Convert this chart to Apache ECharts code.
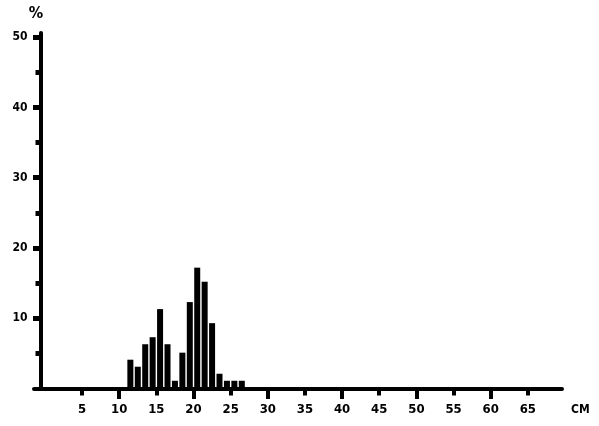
<!DOCTYPE html>
<html>
<head>
<meta charset="utf-8">
<script src="https://cdn.jsdelivr.net/npm/echarts@6/dist/echarts.min.js"></script>
<style>html,body{margin:0;padding:0;background:#fff;}#c{width:599px;height:426px;}</style>
</head>
<body>
<div id="c"></div>
<script>
// Bin starts (cm) and percentage per 1-cm bin
const binStarts = [11, 12, 13, 14, 15, 16, 17, 18, 19, 20, 21, 22, 23, 24, 25, 26];
const percents  = [4.1, 3.1, 6.3, 7.3, 11.3, 6.3, 1.1, 5.1, 12.3, 17.2, 15.2, 9.3, 2.1, 1.1, 1.1, 1.1];
const xLabelValues = [5, 10, 15, 20, 25, 30, 35, 40, 45, 50, 55, 60, 65];
const xMajorTicks = [10, 20, 30, 40, 50, 60];
const xMinorTicks = [5, 15, 25, 35, 45, 55, 65];
const yLabelValues = [10, 20, 30, 40, 50];
const yMinorTicks = [5, 15, 25, 35, 45];

const FONT = '"DejaVu Sans Condensed", "DejaVu Sans", sans-serif';
const chart = echarts.init(document.getElementById('c'), null, {renderer: 'canvas'});
const barData = binStarts.map((b, i) => [b + 0.5, percents[i]]);

const xBase = {type: 'value', min: -1.47, max: 69.6, position: 'bottom', splitLine: {show: false}};
const yBase = {type: 'value', min: 0, max: 50.6, position: 'left', offset: -6.5, splitLine: {show: false}};

chart.setOption({
  animation: false,
  backgroundColor: '#fff',
  grid: {left: 34, right: 37, top: 33, bottom: 37.5, containLabel: false},
  xAxis: [
    Object.assign({}, xBase, {
      axisLine: {show: true, onZero: false, lineStyle: {color: '#000', width: 4}},
      axisTick: {show: true, customValues: xMajorTicks, length: 10.5, lineStyle: {color: '#000', width: 4}},
      axisLabel: {show: true, customValues: xLabelValues, margin: 15, color: '#000', fontFamily: FONT, fontWeight: 'bold', fontSize: 13},
      name: 'CM', nameLocation: 'end', nameGap: 9,
      nameTextStyle: {color: '#000', fontFamily: FONT, fontWeight: 'bold', fontSize: 12, verticalAlign: 'top', align: 'left', padding: [15, 0, 0, 0]}
    }),
    Object.assign({}, xBase, {
      axisLine: {show: false, onZero: false},
      axisTick: {show: true, customValues: xMinorTicks, length: 7, lineStyle: {color: '#000', width: 4}},
      axisLabel: {show: false}
    })
  ],
  yAxis: [
    Object.assign({}, yBase, {
      axisLine: {show: true, onZero: false, lineStyle: {color: '#000', width: 4}},
      axisTick: {show: true, customValues: yLabelValues, length: 7.5, lineStyle: {color: '#000', width: 5}},
      axisLabel: {show: true, customValues: yLabelValues, margin: 13, color: '#000', fontFamily: FONT, fontWeight: 'bold', fontSize: 12},
      name: '%', nameLocation: 'end', nameGap: 11,
      nameTextStyle: {color: '#000', fontFamily: FONT, fontWeight: 'bold', fontSize: 16, padding: [0, 9, 0, 0]}
    }),
    Object.assign({}, yBase, {
      axisLine: {show: false, onZero: false},
      axisTick: {show: true, customValues: yMinorTicks, length: 5, lineStyle: {color: '#000', width: 5}},
      axisLabel: {show: false}
    })
  ],
  series: [{
    type: 'bar',
    xAxisIndex: 0,
    yAxisIndex: 0,
    data: barData,
    barWidth: 6,
    itemStyle: {color: '#000'},
    z: 1
  }]
});
</script>
</body>
</html>
